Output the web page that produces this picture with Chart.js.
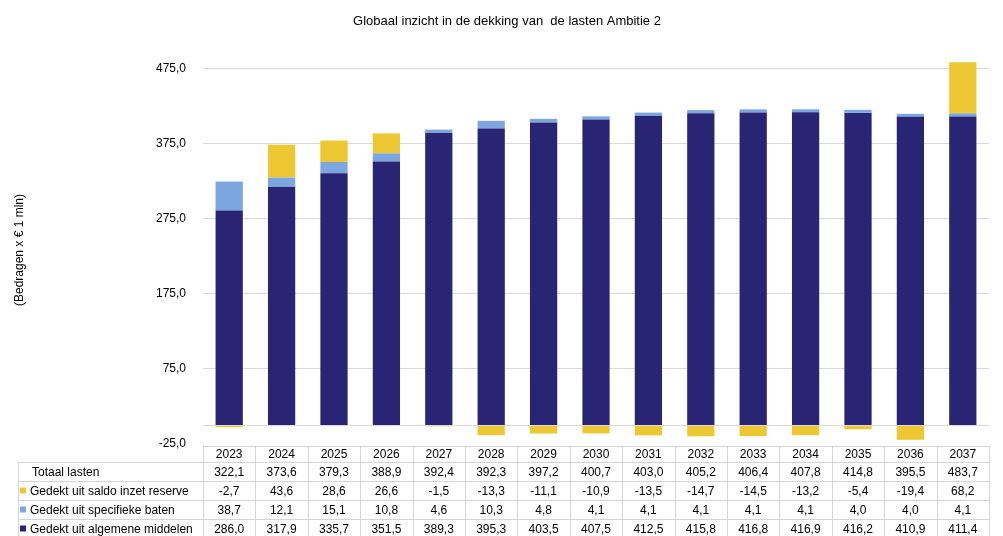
<!DOCTYPE html>
<html><head><meta charset="utf-8">
<script src="https://cdn.jsdelivr.net/npm/chart.js@4/dist/chart.umd.min.js"></script>
<style>html,body{margin:0;padding:0;background:#fff}#wrap{width:1003px;height:536px;position:relative}</style>
</head><body><div id="wrap"><canvas id="c" width="1003" height="536"></canvas></div>
<script>
const years = ['2023','2024','2025','2026','2027','2028','2029','2030','2031','2032','2033','2034','2035','2036','2037'];
const totaalLasten = [322.1,373.6,379.3,388.9,392.4,392.3,397.2,400.7,403.0,405.2,406.4,407.8,414.8,395.5,483.7];
const saldoReserve = [-2.7,43.6,28.6,26.6,-1.5,-13.3,-11.1,-10.9,-13.5,-14.7,-14.5,-13.2,-5.4,-19.4,68.2];
const specifiekeBaten = [38.7,12.1,15.1,10.8,4.6,10.3,4.8,4.1,4.1,4.1,4.1,4.1,4.0,4.0,4.1];
const algemeneMiddelen = [286.0,317.9,335.7,351.5,389.3,395.3,403.5,407.5,412.5,415.8,416.8,416.9,416.2,410.9,411.4];
const yTicks = [-25,75,175,275,375,475];
const titleText = 'Globaal inzicht in de dekking van  de lasten Ambitie 2';

const C_NAVY = '#2A2474', C_BLUE = '#7BA6E0', C_YEL = '#EEC833';
const fmt = v => v.toFixed(1).replace('.', ',');
const FONT = '"Liberation Sans", Arial, sans-serif';

const tablePlugin = {
  id: 'tablePlugin',
  afterDraw(chart) {
    const ctx = chart.ctx, xs = chart.scales.x, ys = chart.scales.y, ca = chart.chartArea;
    ctx.save();
    ctx.fillStyle = '#000';
    ctx.font = '13px ' + FONT;
    ctx.textAlign = 'center'; ctx.textBaseline = 'middle';
    ctx.fillText(titleText, 507, 21);
    // y axis title
    ctx.save();
    ctx.translate(20, 250);
    ctx.rotate(-Math.PI / 2);
    ctx.font = '12px ' + FONT;
    ctx.fillText('(Bedragen x € 1 mln)', 0, 0);
    ctx.restore();
    // zero line
    const y0 = Math.round(ys.getPixelForValue(0)) + 0.5;
    ctx.strokeStyle = '#d9d9d9'; ctx.lineWidth = 1;
    ctx.beginPath(); ctx.moveTo(ca.left, y0); ctx.lineTo(ca.right, y0); ctx.stroke();
    // table
    const rowsY = [446, 462, 481, 500, 519, 538];
    const n = years.length;
    const half = (xs.getPixelForValue(1) - xs.getPixelForValue(0)) / 2;
    const left = Math.round(xs.getPixelForValue(0) - half) + 0.5;
    const right = Math.round(xs.getPixelForValue(n - 1) + half) + 0.5;
    const legL = 18.5;
    ctx.strokeStyle = '#d4d4d4';
    ctx.beginPath();
    ctx.moveTo(left, rowsY[0] + 0.5); ctx.lineTo(right, rowsY[0] + 0.5);
    for (let r = 1; r < rowsY.length; r++) { ctx.moveTo(legL, rowsY[r] + 0.5); ctx.lineTo(right, rowsY[r] + 0.5); }
    ctx.moveTo(legL, rowsY[1]); ctx.lineTo(legL, rowsY[5]);
    for (let i = 0; i <= n; i++) {
      const x = Math.round(xs.getPixelForValue(i) - half) + 0.5;
      ctx.moveTo(x, rowsY[0]); ctx.lineTo(x, rowsY[5]);
    }
    ctx.stroke();
    ctx.fillStyle = '#000';
    ctx.font = '12px ' + FONT;
    ctx.textAlign = 'center';
    const rows = [years, totaalLasten.map(fmt), saldoReserve.map(fmt), specifiekeBaten.map(fmt), algemeneMiddelen.map(fmt)];
    rows.forEach((row, r) => {
      const cy = (rowsY[r] + rowsY[r + 1]) / 2 + 1;
      row.forEach((t, i) => ctx.fillText(t, xs.getPixelForValue(i), cy));
    });
    ctx.textAlign = 'left';
    const labels = ['Totaal lasten', chart.data.datasets[2].label, chart.data.datasets[1].label, chart.data.datasets[0].label];
    const cols = [null, C_YEL, C_BLUE, C_NAVY];
    labels.forEach((t, k) => {
      const r = k + 1;
      const cy = (rowsY[r] + rowsY[r + 1]) / 2 + 1;
      if (cols[k]) {
        ctx.fillStyle = cols[k];
        ctx.fillRect(20, cy - 4, 6, 6);
        ctx.fillStyle = '#000';
        ctx.fillText(t, 30, cy);
      } else {
        ctx.fillText(t, 32, cy);
      }
    });
    ctx.restore();
  }
};

new Chart(document.getElementById('c'), {
  type: 'bar',
  data: {
    labels: years,
    datasets: [
      { label: 'Gedekt uit algemene middelen', data: algemeneMiddelen, backgroundColor: C_NAVY },
      { label: 'Gedekt uit specifieke baten', data: specifiekeBaten, backgroundColor: C_BLUE },
      { label: 'Gedekt uit saldo inzet reserve', data: saldoReserve, backgroundColor: C_YEL }
    ]
  },
  options: {
    responsive: false,
    animation: false,
    layout: { padding: { top: 50, right: 14, bottom: 92, left: 0 } },
    datasets: { bar: { categoryPercentage: 1.0, barPercentage: 0.52 } },
    plugins: { legend: { display: false }, title: { display: false }, tooltip: { enabled: false } },
    scales: {
      x: { display: false, stacked: true },
      y: {
        stacked: true,
        min: -25, max: 500,
        afterBuildTicks: s => { s.ticks = yTicks.map(v => ({ value: v })); },
        afterFit: s => { s.width = 203; },
        border: { display: false },
        grid: { color: ctx => (ctx.tick && ctx.tick.value === -25 ? 'rgba(0,0,0,0)' : '#d9d9d9'), drawTicks: false },
        ticks: { padding: 17, color: '#000', font: { family: FONT, size: 12 }, callback: v => fmt(v) }
      }
    }
  },
  plugins: [tablePlugin]
});
</script>
</body></html>
